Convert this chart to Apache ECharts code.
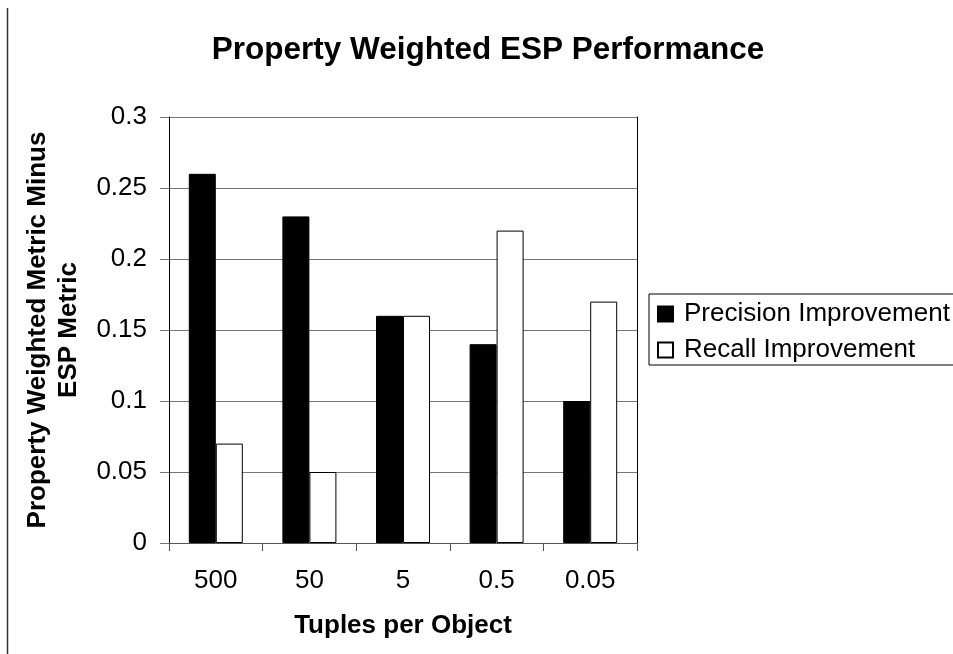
<!DOCTYPE html>
<html>
<head>
<meta charset="utf-8">
<script src="https://cdn.jsdelivr.net/npm/echarts@6/dist/echarts.min.js"></script>
<style>
  html, body { margin: 0; padding: 0; background: #fff; }
  #chart { width: 953px; height: 654px; }
</style>
</head>
<body>
<div id="chart"></div>
<script>
// Tuples per object on the x axis, improvement over the ESP metric on y
const categories = ['500', '50', '5', '0.5', '0.05'];
const precisionImprovement = [0.26, 0.23, 0.16, 0.14, 0.10];
const recallImprovement = [0.07, 0.05, 0.16, 0.22, 0.17];
const yTicks = { min: 0, max: 0.3, interval: 0.05 };

const FONT = '"Liberation Sans", Arial, sans-serif';

const chart = echarts.init(document.getElementById('chart'), null, { renderer: 'canvas' });

chart.setOption({
  animation: false,
  backgroundColor: '#ffffff',
  textStyle: { fontFamily: FONT },
  title: {
    text: 'Property Weighted ESP Performance',
    left: 483,
    top: 29,
    textAlign: 'center',
    textStyle: { fontFamily: FONT, fontSize: 31.5, fontWeight: 'bold', color: '#000' }
  },
  legend: {
    orient: 'vertical',
    left: 649,
    top: 294,
    padding: [7, 40, 2, 8],
    itemGap: 10,
    itemWidth: 15,
    itemHeight: 15,
    icon: 'rect',
    borderColor: '#000',
    borderWidth: 1,
    textStyle: { fontFamily: FONT, fontSize: 26, color: '#000', padding: [0, 0, 0, 6] },
    data: ['Precision Improvement', 'Recall Improvement']
  },
  grid: {
    left: 169,
    right: 316,
    top: 117,
    bottom: 111,
    containLabel: false
  },
  xAxis: {
    type: 'category',
    data: categories,
    boundaryGap: true,
    name: 'Tuples per Object',
    nameLocation: 'middle',
    nameGap: 70,
    nameTextStyle: { fontFamily: FONT, fontSize: 26, fontWeight: 'bold', color: '#000' },
    axisLine: { show: true, lineStyle: { color: '#555', width: 1 } },
    axisTick: { show: true, alignWithLabel: false, length: 8, lineStyle: { color: '#555' } },
    axisLabel: { fontFamily: FONT, fontSize: 26, color: '#000', margin: 25 },
    splitLine: { show: false }
  },
  yAxis: [
    {
      type: 'value',
      min: yTicks.min,
      max: yTicks.max,
      interval: yTicks.interval,
      name: 'Property Weighted Metric Minus\nESP Metric',
      nameLocation: 'middle',
      nameGap: 85,
      nameRotate: 90,
      nameTextStyle: { fontFamily: FONT, fontSize: 26, fontWeight: 'bold', color: '#000', lineHeight: 31 },
      axisLine: { show: true, lineStyle: { color: '#000', width: 1 } },
      axisTick: { show: true, length: 9, lineStyle: { color: '#777' } },
      axisLabel: {
        fontFamily: FONT, fontSize: 26, color: '#000', margin: 22,
        formatter: v => String(parseFloat(v.toFixed(2)))
      },
      splitLine: { show: true, lineStyle: { color: '#777', width: 1 } }
    },
    {
      type: 'value',
      position: 'right',
      min: yTicks.min,
      max: yTicks.max,
      interval: yTicks.interval,
      axisLine: { show: true, lineStyle: { color: '#000', width: 1 } },
      axisTick: { show: false },
      axisLabel: { show: false },
      splitLine: { show: false }
    }
  ],
  series: [
    {
      name: 'Precision Improvement',
      type: 'bar',
      data: precisionImprovement,
      barWidth: 27,
      barGap: '0%',
      itemStyle: { color: '#000', borderColor: '#000', borderWidth: 1 }
    },
    {
      name: 'Recall Improvement',
      type: 'bar',
      data: recallImprovement,
      barWidth: 27,
      barGap: '0%',
      itemStyle: { color: '#fff', borderColor: '#000', borderWidth: 1 }
    }
  ],
  graphic: [
    {
      type: 'line',
      shape: { x1: 7.5, y1: 8, x2: 7.5, y2: 654 },
      style: { stroke: '#333', lineWidth: 1.5 }
    }
  ]
});
</script>
</body>
</html>
